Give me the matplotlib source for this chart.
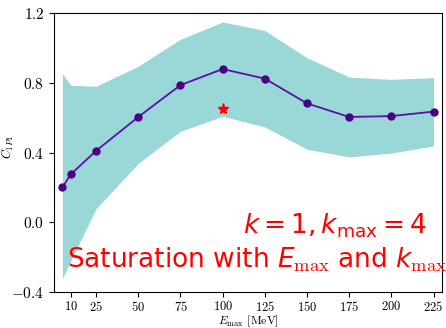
import matplotlib
matplotlib.use('Agg')
import matplotlib.pyplot as plt

plt.rcParams['mathtext.fontset'] = 'cm'
plt.rcParams['font.family'] = 'serif'
plt.rcParams['font.serif'] = ['cmr10', 'DejaVu Serif']
plt.rcParams['axes.formatter.use_mathtext'] = True
# custom math font used only for the red annotation (sans digits, serif "max" via \mathsf)
plt.rcParams['mathtext.rm'] = 'DejaVu Sans'
plt.rcParams['mathtext.it'] = 'DejaVu Sans:italic'
plt.rcParams['mathtext.sf'] = 'cmr10'

e_max = [5, 10, 25, 50, 75, 100, 125, 150, 175, 200, 225]
c_mean = [0.20, 0.275, 0.41, 0.604, 0.787, 0.879, 0.824, 0.682, 0.604, 0.609, 0.635]
c_upper = [0.853, 0.786, 0.78, 0.896, 1.05, 1.149, 1.10, 0.944, 0.833, 0.82, 0.83]
c_lower = [-0.323, -0.22, 0.078, 0.338, 0.522, 0.608, 0.547, 0.419, 0.375, 0.397, 0.438]
star_x = [100]
star_y = [0.648]
xticks = [10, 25, 50, 75, 100, 125, 150, 175, 200, 225]
yticks = [-0.4, 0.0, 0.4, 0.8, 1.2]

fig = plt.figure(figsize=(4.46, 3.28), dpi=100)
ax = fig.add_axes([0.121, 0.110, 0.870, 0.850])

ax.fill_between(e_max, c_lower, c_upper, color='#9ad8d8', lw=0)
ax.plot(e_max, c_mean, color='#5a10a8', lw=1.3, marker='o', ms=5,
        mfc='indigo', mec='indigo')
ax.plot(star_x, star_y, marker='*', color='red', ms=8, ls='none')

ax.set_xlim(0, 230)
ax.set_ylim(-0.4, 1.2)
ax.set_xticks(xticks)
ax.set_yticks(yticks)
ax.tick_params(axis='x', labelsize=9, pad=2)
ax.tick_params(axis='y', labelsize=11)

ax.set_xlabel(r'$E_\mathrm{max}$ [MeV]', fontsize=8.5, va='top')
ax.xaxis.set_label_coords(0.5, -0.077)
ax.set_ylabel(r'$C_{1P1}$', fontsize=9)
ax.yaxis.set_label_coords(-0.098, 0.52)

fig.text(243 / 446, 1 - 233 / 328, r'$k = 1, k_\mathrm{max} = 4$', color='red',
         fontsize=19, family='DejaVu Sans', math_fontfamily='custom',
         ha='left', va='baseline')
fig.text(67 / 446, 1 - 268 / 328,
         r'Saturation with $E_\mathsf{max}$ and $k_\mathsf{max}$', color='red',
         fontsize=19, family='DejaVu Sans', math_fontfamily='custom',
         ha='left', va='baseline')

fig.savefig('out.png', dpi=100)
